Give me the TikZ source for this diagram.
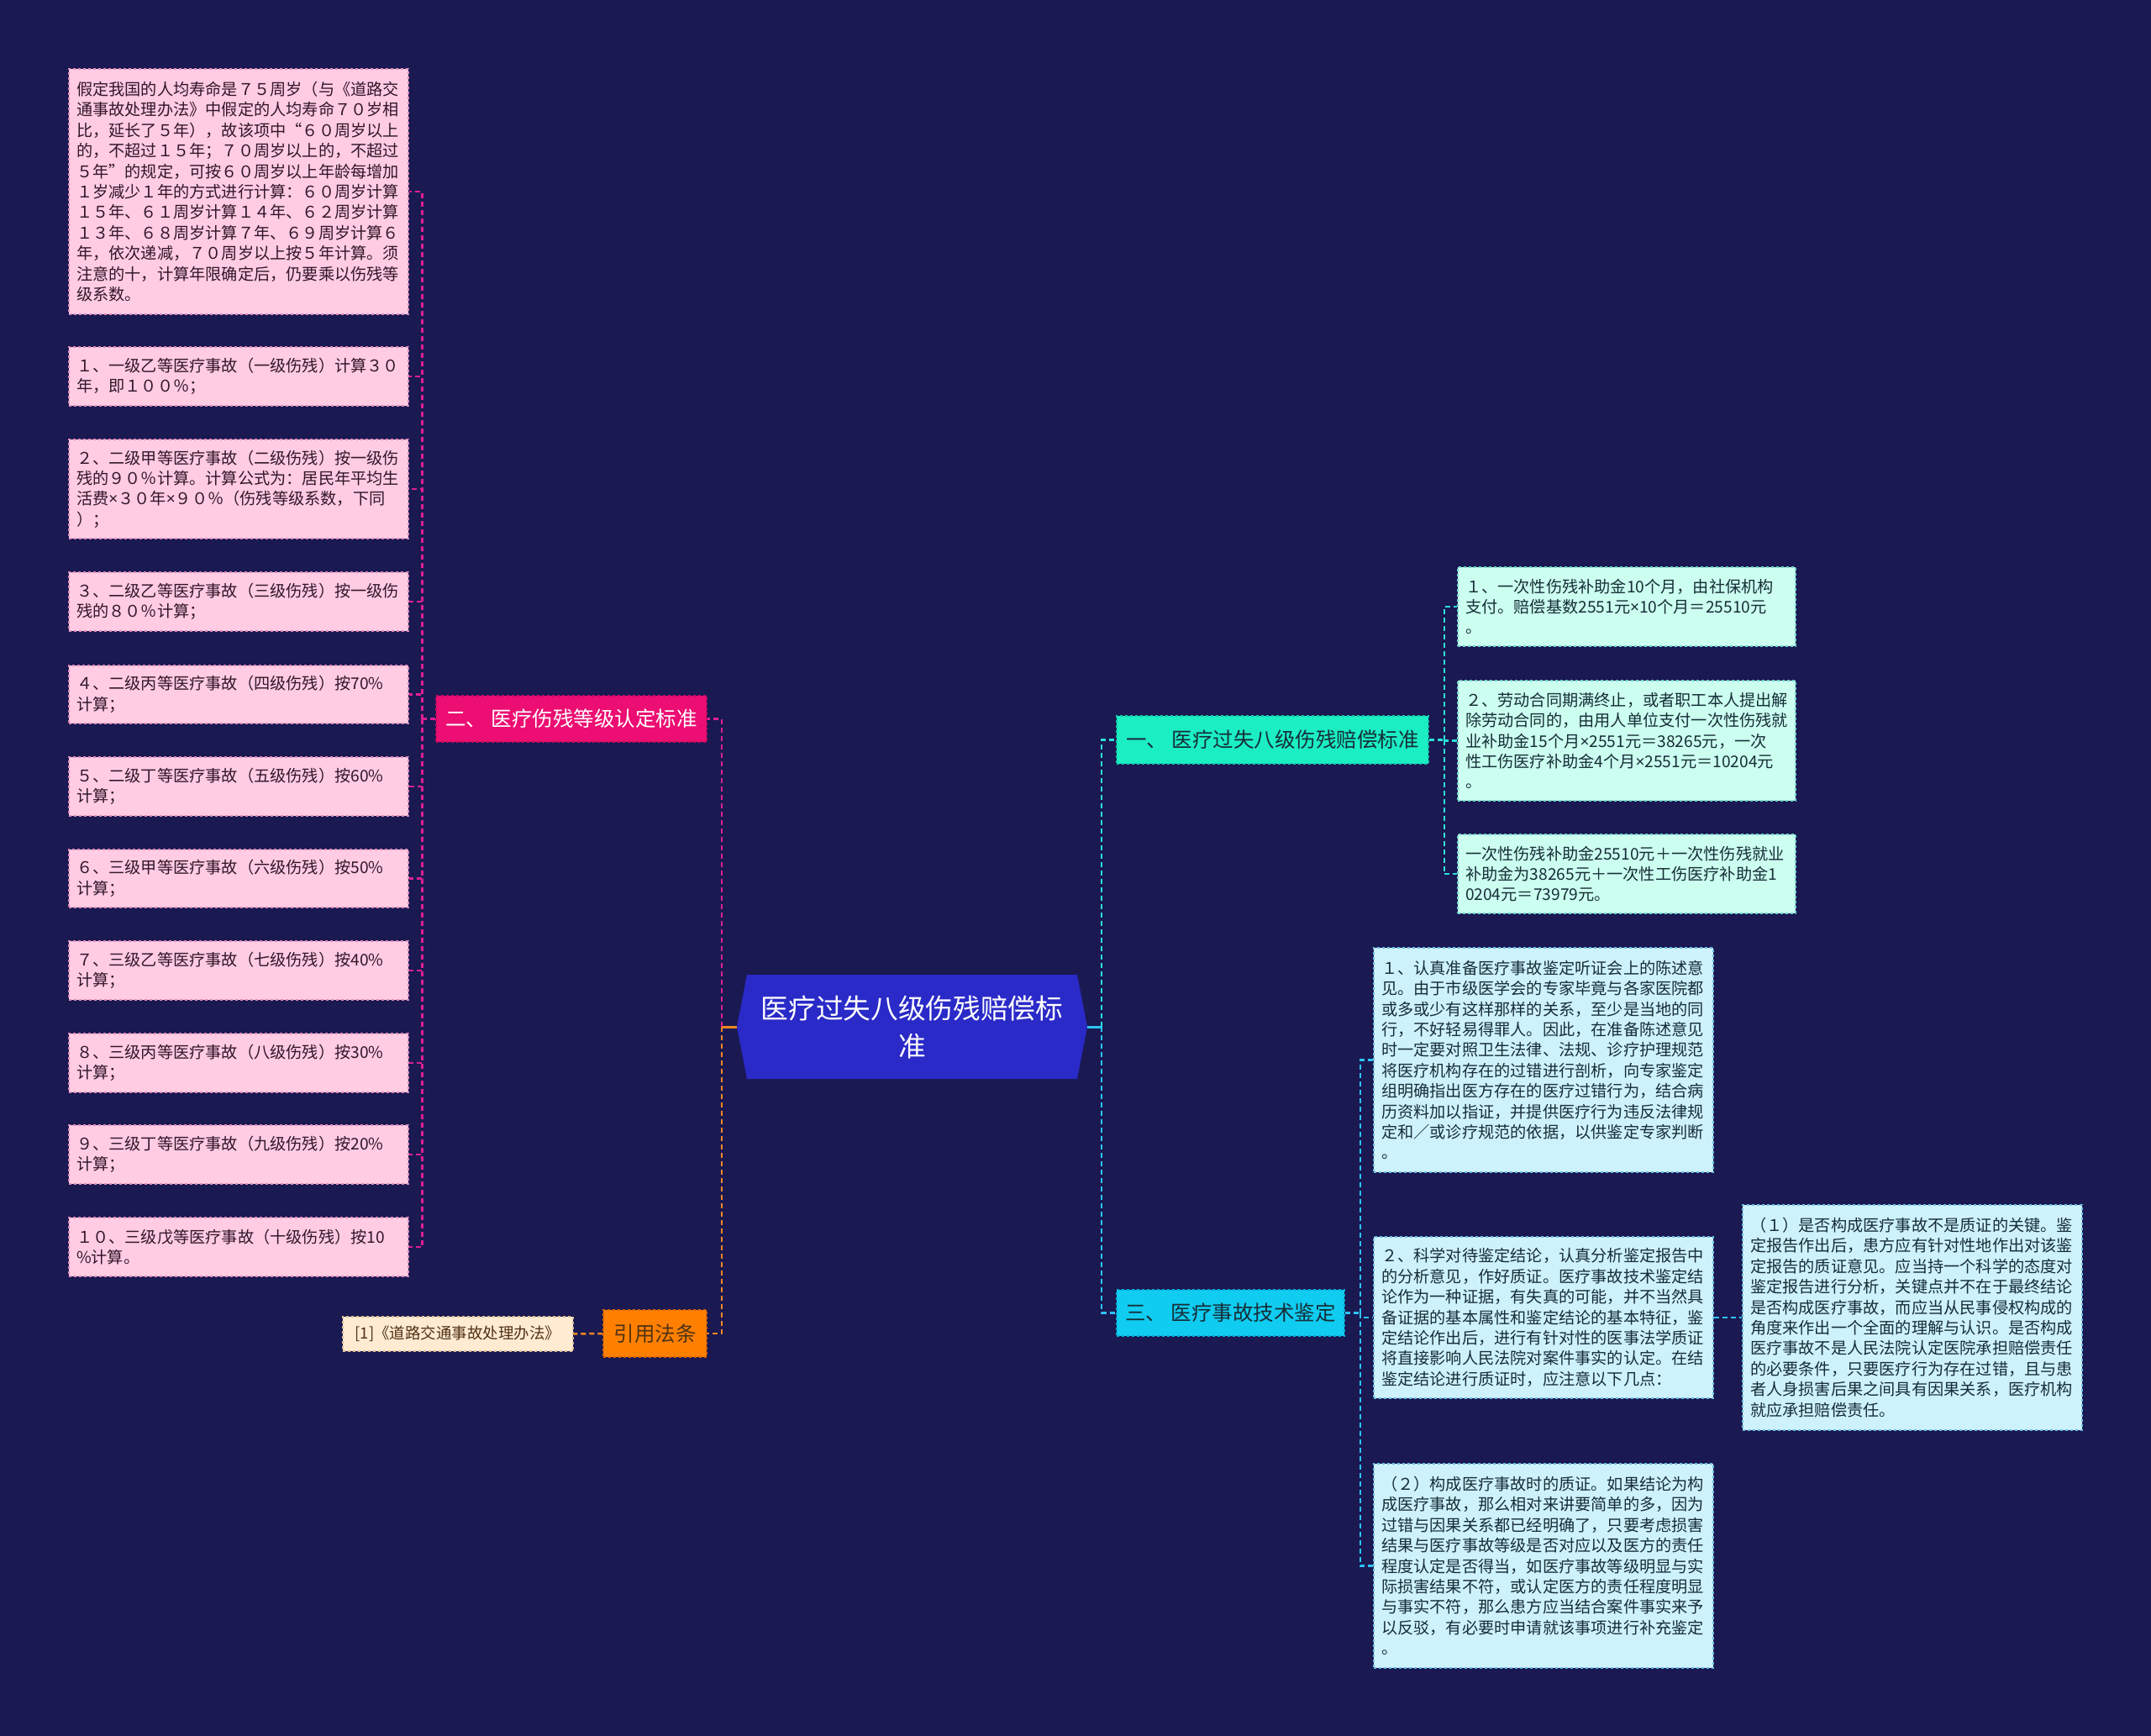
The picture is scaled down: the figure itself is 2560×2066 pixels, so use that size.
\documentclass[tikz,border=0pt]{standalone}
\usepackage{fontspec}
\setmainfont{Noto Sans CJK SC}
\newfontfamily\latinfont{Noto Sans}
\newcommand{\tmsign}{{\latinfont ×}}
\usetikzlibrary{calc}
\definecolor{bg}{RGB}{26,25,82}
\definecolor{rootblue}{RGB}{42,42,200}
\definecolor{pinkmain}{RGB}{236,14,114}
\definecolor{pinkmainb}{RGB}{200,10,95}
\definecolor{orangemain}{RGB}{255,128,0}
\definecolor{orangemainb}{RGB}{220,100,0}
\definecolor{aquamain}{RGB}{28,238,196}
\definecolor{aquamainb}{RGB}{20,200,165}
\definecolor{cyanmain}{RGB}{16,204,240}
\definecolor{cyanmainb}{RGB}{10,170,210}
\definecolor{pinkleaf}{RGB}{255,204,228}
\definecolor{pinkleafb}{RGB}{225,140,185}
\definecolor{mintleaf}{RGB}{204,255,240}
\definecolor{mintleafb}{RGB}{110,215,200}
\definecolor{cyanleaf}{RGB}{206,242,252}
\definecolor{cyanleafb}{RGB}{110,190,225}
\definecolor{peach}{RGB}{255,235,210}
\definecolor{peachb}{RGB}{220,190,150}
\definecolor{conmag}{RGB}{222,32,145}
\definecolor{conorange}{RGB}{245,135,35}
\definecolor{conteal}{RGB}{45,225,215}
\definecolor{conblue}{RGB}{45,195,245}
\definecolor{txtpink}{RGB}{50,22,40}
\definecolor{txtteal}{RGB}{22,45,55}
\definecolor{txtbrown}{RGB}{80,50,20}
\begin{document}
\begin{tikzpicture}[x=1pt,y=-1pt,
  leafbase/.style={rectangle, draw, dashed, line width=1.5pt, inner xsep=9pt, inner ysep=0pt,
    align=left, font=\fontsize{19.2}{24.4}\selectfont, anchor=center},
  pleaf/.style={leafbase, fill=pinkleaf, draw=pinkleafb, text=txtpink, text width=386pt},
  mleaf/.style={leafbase, fill=mintleaf, draw=mintleafb, text=txtteal, text width=384pt},
  cleaf/.style={leafbase, fill=cyanleaf, draw=cyanleafb, text=txtteal, text width=386pt},
  mainbox/.style={rectangle, draw, dashed, line width=1.5pt, inner sep=0pt,
    font=\fontsize{24.5}{30}\selectfont, anchor=center},
  con/.style={line width=2.5pt, dash pattern=on 6pt off 4pt},
  magcon/.style={con, draw=conmag},
  orcon/.style={con, draw=conorange},
  tealcon/.style={con, draw=conteal},
  bluecon/.style={con, draw=conblue},
]
\useasboundingbox (0,0) rectangle (2560,2066);
\fill[bg] (0,0) rectangle (2560,2066);

% root
\fill[rootblue] (877,1222) -- (889,1160) -- (1282,1160) -- (1294,1222) -- (1282,1284) -- (889,1284) -- cycle;
\node[rectangle, minimum width=417pt, minimum height=124pt, inner sep=0pt, align=center,
  text=white, font=\fontsize{32.7}{45}\selectfont] (root) at (1085.5,1222)
  {医疗过失八级伤残赔偿标\\准};

% main branches
\node[mainbox, fill=pinkmain, draw=pinkmainb, text=white, minimum width=322pt, minimum height=55pt] (b2) at (680,855.5) {二、 医疗伤残等级认定标准};
\node[mainbox, fill=orangemain, draw=orangemainb, text=txtbrown, minimum width=123pt, minimum height=56pt] (law) at (779.5,1587) {引用法条};
\node[mainbox, fill=peach, draw=peachb, text=txtbrown, minimum width=274pt, minimum height=41pt, font=\fontsize{18.5}{22}\selectfont] (ref) at (545,1587.5) {[1]《道路交通事故处理办法》};
\node[mainbox, fill=aquamain, draw=aquamainb, text=txtteal, minimum width=371pt, minimum height=57pt] (b1) at (1514.5,880.5) {一、 医疗过失八级伤残赔偿标准};
\node[mainbox, fill=cyanmain, draw=cyanmainb, text=txtteal, minimum width=271pt, minimum height=55pt] (b3) at (1464.5,1562.5) {三、 医疗事故技术鉴定};

% left leaves
\node[pleaf, minimum height=292pt] (L0) at (284,228) {假定我国的人均寿命是７５周岁（与《道路交\\通事故处理办法》中假定的人均寿命７０岁相\\比，延长了５年），故该项中“６０周岁以上\\的，不超过１５年；７０周岁以上的，不超过\\５年”的规定，可按６０周岁以上年龄每增加\\１岁减少１年的方式进行计算：６０周岁计算\\１５年、６１周岁计算１４年、６２周岁计算\\１３年、６８周岁计算７年、６９周岁计算６\\年，依次递减，７０周岁以上按５年计算。须\\注意的十，计算年限确定后，仍要乘以伤残等\\级系数。};
\node[pleaf, minimum height=70pt] (L1) at (284,448) {１、一级乙等医疗事故（一级伤残）计算３０\\年，即１００％；};
\node[pleaf, minimum height=118pt] (L2) at (284,582) {２、二级甲等医疗事故（二级伤残）按一级伤\\残的９０％计算。计算公式为：居民年平均生\\活费\tmsign３０年\tmsign９０％（伤残等级系数，下同\\）；};
\node[pleaf, minimum height=70pt] (L3) at (284,716) {３、二级乙等医疗事故（三级伤残）按一级伤\\残的８０％计算；};
\node[pleaf, minimum height=69pt] (L4) at (284,826.5) {４、二级丙等医疗事故（四级伤残）按70\%\\计算；};
\node[pleaf, minimum height=70pt] (L5) at (284,936) {５、二级丁等医疗事故（五级伤残）按60\%\\计算；};
\node[pleaf, minimum height=69pt] (L6) at (284,1045.5) {６、三级甲等医疗事故（六级伤残）按50\%\\计算；};
\node[pleaf, minimum height=70pt] (L7) at (284,1155) {７、三级乙等医疗事故（七级伤残）按40\%\\计算；};
\node[pleaf, minimum height=70pt] (L8) at (284,1265) {８、三级丙等医疗事故（八级伤残）按30\%\\计算；};
\node[pleaf, minimum height=70pt] (L9) at (284,1374) {９、三级丁等医疗事故（九级伤残）按20\%\\计算；};
\node[pleaf, minimum height=70pt] (L10) at (284,1484) {１０、三级戊等医疗事故（十级伤残）按10\\\%计算。};

% right leaves of b1
\node[mleaf, minimum height=94pt] (c1) at (1936,722) {１、一次性伤残补助金10个月，由社保机构\\支付。赔偿基数2551元\tmsign 10个月＝25510元\\。};
\node[mleaf, minimum height=143pt] (c2) at (1936,881.5) {２、劳动合同期满终止，或者职工本人提出解\\除劳动合同的，由用人单位支付一次性伤残就\\业补助金15个月\tmsign 2551元＝38265元，一次\\性工伤医疗补助金4个月\tmsign 2551元＝10204元\\。};
\node[mleaf, minimum height=94pt] (c3) at (1936,1040) {一次性伤残补助金25510元＋一次性伤残就业\\补助金为38265元＋一次性工伤医疗补助金1\\0204元＝73979元。};

% right leaves of b3
\node[cleaf, minimum height=267pt] (d1) at (1837,1261.5) {１、认真准备医疗事故鉴定听证会上的陈述意\\见。由于市级医学会的专家毕竟与各家医院都\\或多或少有这样那样的关系，至少是当地的同\\行，不好轻易得罪人。因此，在准备陈述意见\\时一定要对照卫生法律、法规、诊疗护理规范\\将医疗机构存在的过错进行剖析，向专家鉴定\\组明确指出医方存在的医疗过错行为，结合病\\历资料加以指证，并提供医疗行为违反法律规\\定和／或诊疗规范的依据，以供鉴定专家判断\\。};
\node[cleaf, minimum height=192pt] (d2) at (1837,1568) {２、科学对待鉴定结论，认真分析鉴定报告中\\的分析意见，作好质证。医疗事故技术鉴定结\\论作为一种证据，有失真的可能，并不当然具\\备证据的基本属性和鉴定结论的基本特征，鉴\\定结论作出后，进行有针对性的医事法学质证\\将直接影响人民法院对案件事实的认定。在结\\鉴定结论进行质证时，应注意以下几点：};
\node[cleaf, minimum height=243pt] (d3) at (1837,1863.5) {（２）构成医疗事故时的质证。如果结论为构\\成医疗事故，那么相对来讲要简单的多，因为\\过错与因果关系都已经明确了，只要考虑损害\\结果与医疗事故等级是否对应以及医方的责任\\程度认定是否得当，如医疗事故等级明显与实\\际损害结果不符，或认定医方的责任程度明显\\与事实不符，那么患方应当结合案件事实来予\\以反驳，有必要时申请就该事项进行补充鉴定\\。};
\node[cleaf, minimum height=268pt] (e1) at (2276,1568) {（１）是否构成医疗事故不是质证的关键。鉴\\定报告作出后，患方应有针对性地作出对该鉴\\定报告的质证意见。应当持一个科学的态度对\\鉴定报告进行分析，关键点并不在于最终结论\\是否构成医疗事故，而应当从民事侵权构成的\\角度来作出一个全面的理解与认识。是否构成\\医疗事故不是人民法院认定医院承担赔偿责任\\的必要条件，只要医疗行为存在过错，且与患\\者人身损害后果之间具有因果关系，医疗机构\\就应承担赔偿责任。};

% connectors: left
\draw[draw=conorange, line width=3pt] (root.west) -- ++(-18,0) coordinate (LT);
\draw[magcon] (LT) |- (b2.east);
\draw[orcon] (LT) |- (law.east);
\draw[orcon] (law.west) -- (ref.east);
\draw[magcon] (b2.west) -- ++(-16,0) coordinate (LL);
\foreach \n in {L0,L1,L2,L3,L4,L5,L6,L7,L8,L9,L10}
  \draw[magcon] (LL) |- (\n.east);

% connectors: right
\draw[draw=conblue, line width=3pt] (root.east) -- ++(17,0) coordinate (RT);
\draw[tealcon] (RT) |- (b1.west);
\draw[bluecon] (RT) |- (b3.west);
\draw[tealcon] (b1.east) -- ++(18,0) coordinate (R1);
\foreach \n in {c1,c2,c3}
  \draw[tealcon] (R1) |- (\n.west);
\draw[bluecon] (b3.east) -- ++(18,0) coordinate (R3);
\foreach \n in {d1,d2,d3}
  \draw[bluecon] (R3) |- (\n.west);
\draw[bluecon] (d2.east) -- (e1.west);
\end{tikzpicture}
\end{document}
